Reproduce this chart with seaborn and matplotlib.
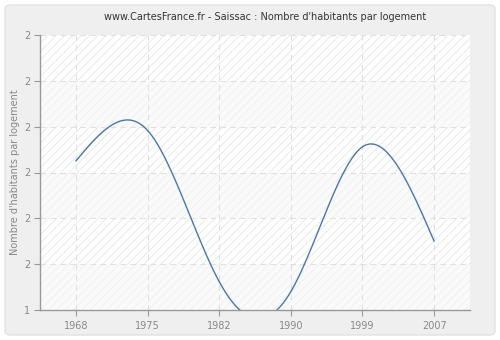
import numpy as np
import pandas as pd
import matplotlib
matplotlib.use("Agg")
import matplotlib.pyplot as plt
import seaborn as sns
from matplotlib.patches import FancyBboxPatch

years = ["1968", "1975", "1982", "1990", "1999", "2007"]
values = [1.725, 1.792, 1.462, 1.440, 1.756, 1.550]
y_ticks = [1.4, 1.5, 1.6, 1.7, 1.8, 1.9, 2.0]
y_tick_labels = ["1", "2", "2", "2", "2", "2", "2"]
title = "www.CartesFrance.fr - Saissac : Nombre d'habitants par logement"
ylabel = "Nombre d'habitants par logement"


def natural_spline(x, y, n=400):
    x = np.asarray(x, float)
    y = np.asarray(y, float)
    k = len(x)
    h = np.diff(x)
    A = np.zeros((k, k))
    b = np.zeros(k)
    A[0, 0] = 1
    A[-1, -1] = 1
    for i in range(1, k - 1):
        A[i, i - 1] = h[i - 1]
        A[i, i] = 2 * (h[i - 1] + h[i])
        A[i, i + 1] = h[i]
        b[i] = 3 * ((y[i + 1] - y[i]) / h[i] - (y[i] - y[i - 1]) / h[i - 1])
    c = np.linalg.solve(A, b)
    xs = np.linspace(x[0], x[-1], n)
    ys = np.empty_like(xs)
    for j, xv in enumerate(xs):
        i = min(np.searchsorted(x, xv, side="right") - 1, k - 2)
        dx = xv - x[i]
        bi = (y[i + 1] - y[i]) / h[i] - h[i] * (2 * c[i] + c[i + 1]) / 3
        di = (c[i + 1] - c[i]) / (3 * h[i])
        ys[j] = y[i] + bi * dx + c[i] * dx ** 2 + di * dx ** 3
    return xs, ys


sns.set_theme(style="white")
plt.rcParams["font.family"] = ["DejaVu Sans"]
plt.rcParams["hatch.linewidth"] = 0.6

fig = plt.figure(figsize=(5, 3.4), dpi=100)
fig.patch.set_facecolor("white")
bg = FancyBboxPatch((5 / 500, 5 / 340), 490 / 500, 330 / 340,
                    boxstyle="round,pad=0,rounding_size=0.012",
                    transform=fig.transFigure, facecolor="#efefef",
                    edgecolor="#e2e2e2", linewidth=1.0, zorder=-10)
fig.patches.append(bg)

ax = fig.add_axes([40 / 500, 1 - 310 / 340, 430 / 500, 275 / 340])
ax.set_zorder(1)
ax.set_facecolor("white")
ax.set_xlim(-0.5, len(years) - 0.5)
ax.set_ylim(y_ticks[0], y_ticks[-1])

# alternating hatched bands
for i in range(len(y_ticks) - 1):
    top_band = (len(y_ticks) - 2 - i) % 2 == 0
    ax.axhspan(y_ticks[i], y_ticks[i + 1], facecolor="white" if top_band else "#fafafa",
               edgecolor="#e6e6e6" if top_band else "#efefef", hatch="////",
               linewidth=0, zorder=0)

xpos = np.arange(len(years))
xs, ys = natural_spline(xpos, values)
df = pd.DataFrame({"x": xs, "y": ys})
sns.lineplot(data=df, x="x", y="y", ax=ax, color="#4a76b0", linewidth=1.0, zorder=3)

ax.set_xticks(xpos)
ax.set_xticklabels(years)
ax.set_yticks(y_ticks)
ax.set_yticklabels(y_tick_labels)
ax.grid(True, color="#e0e0e0", linestyle=(0, (5, 4)), linewidth=0.8)
ax.set_axisbelow(False)
for gl in ax.get_xgridlines() + ax.get_ygridlines():
    gl.set_zorder(1)

for s in ["top", "right"]:
    ax.spines[s].set_visible(False)
for s in ["left", "bottom"]:
    ax.spines[s].set_color("#999999")
    ax.spines[s].set_linewidth(1.0)
    ax.spines[s].set_zorder(4)

ax.tick_params(axis="both", which="major", length=4, width=0.8, color="#999999",
               labelcolor="#888888", labelsize=7, direction="out", bottom=True, left=True)
ax.tick_params(axis="x", pad=4)
ax.tick_params(axis="y", pad=3)
ax.set_xlabel("")
ax.set_ylabel(ylabel, color="#888888", fontsize=7, labelpad=3)
fig.text(265 / 500, 1 - 17 / 340, title, ha="center", va="center", fontsize=7.0, color="#333333")

fig.savefig("out.png", dpi=100, facecolor=fig.get_facecolor())
